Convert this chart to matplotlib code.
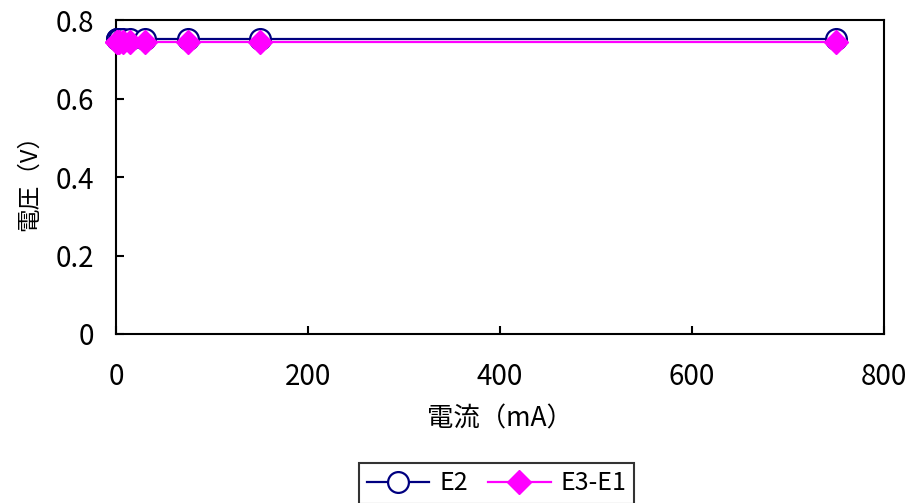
import matplotlib.pyplot as plt

plt.rcParams['font.family'] = ['Noto Sans CJK JP', 'DejaVu Sans']

# 電流 (mA) と電圧 (V)
current = [0.75, 1.5, 3, 7.5, 15, 30, 75, 150, 750]
e2 = [0.752, 0.752, 0.752, 0.752, 0.752, 0.752, 0.752, 0.752, 0.752]
e3_e1 = [0.745, 0.745, 0.745, 0.745, 0.745, 0.745, 0.745, 0.745, 0.745]

xticks = [0, 200, 400, 600, 800]
yticks = [0, 0.2, 0.4, 0.6, 0.8]
ytick_labels = ['0', '0.2', '0.4', '0.6', '0.8']

fig = plt.figure(figsize=(9.08, 5.03), dpi=100)
ax = fig.add_axes([0.1278, 0.336, 0.8458, 0.624])

ax.plot(current, e2, color='#000080', lw=1.6, marker='o', ms=15,
        mfc='white', mec='#000080', mew=1.6, label='E2', clip_on=False, zorder=3)
ax.plot(current, e3_e1, color='#FF00FF', lw=1.6, marker='D', ms=12,
        mfc='#FF00FF', mec='#FF00FF', label='E3-E1', clip_on=False, zorder=4)

ax.set_xlim(0, 800)
ax.set_ylim(0, 0.8)
ax.set_xticks(xticks)
ax.set_yticks(yticks)
ax.set_yticklabels(ytick_labels)
ax.tick_params(direction='in', length=6, width=1.5, labelsize=20)
ax.tick_params(axis='x', pad=20)
ax.tick_params(axis='y', pad=16)
for s in ax.spines.values():
    s.set_linewidth(1.5)

ax.set_xlabel('電流（mA）', fontsize=19, labelpad=10)
ax.set_ylabel('電圧（V）', fontsize=17, labelpad=10)

leg = fig.legend(loc='upper center', bbox_to_anchor=(0.547, 0.08), ncol=2,
                 fontsize=18, frameon=True, fancybox=False, edgecolor='black',
                 handlelength=2.5, borderpad=0.3, borderaxespad=0,
                 columnspacing=0.8, handletextpad=0.4)
leg.get_frame().set_linewidth(1.5)

fig.savefig('out.png', dpi=100)
